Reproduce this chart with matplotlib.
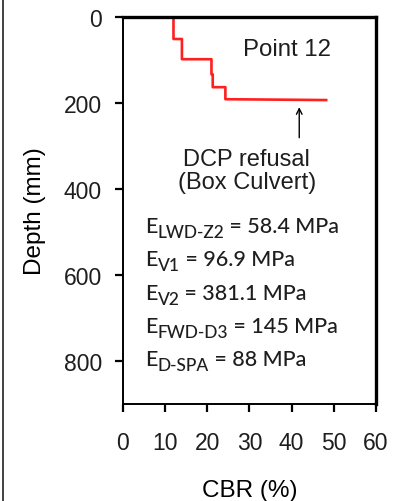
import matplotlib
matplotlib.use('agg')

import matplotlib.pyplot as plt
from matplotlib.lines import Line2D

# CBR profile (step line)
cbr = [12, 12, 14, 14, 21, 21, 21.3, 21.3, 24.3, 24.3, 48.5]
depth = [0, 51, 51, 98, 98, 133, 133, 163, 163, 191, 193]

x_ticks = [0, 10, 20, 30, 40, 50, 60]
y_ticks = [0, 200, 400, 600, 800]

moduli_labels = ['LWD-Z2', 'V1', 'V2', 'FWD-D3', 'D-SPA']
moduli_values = ['58.4', '96.9', '381.1', '145', '88']

plt.rcParams['font.family'] = ['Liberation Sans', 'DejaVu Sans']
plt.rcParams['text.color'] = '#1e1e1e'

fig = plt.figure(figsize=(3.95, 5.02), dpi=100)
ax = fig.add_axes([0.311, 0.193, 0.641, 0.771])

ax.plot(cbr, depth, color='#ff1f1f', lw=1.9, solid_capstyle='butt')

ax.set_xlim(0, 60)
ax.set_ylim(900, 0)
ax.set_xticks(x_ticks)
ax.set_yticks(y_ticks)
ax.tick_params(direction='out', length=6, width=1.6, labelsize=16.5,
               labelcolor='#1e1e1e')
ax.tick_params(axis='x', pad=13)
ax.tick_params(axis='y', pad=9)
ax.set_xlabel('CBR (%)', fontsize=17.5, labelpad=18)
ax.set_ylabel('Depth (mm)', fontsize=17.5, labelpad=13)

for side in ['left', 'bottom']:
    ax.spines[side].set_linewidth(1.4)
for side in ['top', 'right']:
    ax.spines[side].set_linewidth(2.4)

ax.text(39, 74, 'Point 12', fontsize=17.3, ha='center', va='center')

# refusal arrow
ax.annotate('', xy=(41.8, 203), xytext=(41.8, 287),
            arrowprops=dict(arrowstyle='->', color='black', lw=1.0))
ax.text(29.4, 357, 'DCP refusal\n(Box Culvert)', fontsize=17,
        ha='center', va='center', linespacing=1.1)

# moduli text block: E, subscript, then value
efont = ['Lato', 'DejaVu Sans']
y0 = 509
for i, (lab, val) in enumerate(zip(moduli_labels, moduli_values)):
    t_e = ax.text(5.3, y0 + i * 77.5, 'E', fontsize=15.5, family=efont,
                  weight='medium', ha='left', va='bottom')
    t_sub = ax.annotate(lab, xy=(1, 0), xycoords=t_e, xytext=(0, -3),
                        textcoords='offset points', fontsize=12.5,
                        family=efont, weight='medium',
                        ha='left', va='bottom')
    ax.annotate(' = %s MPa' % val, xy=(1, 0), xycoords=(t_sub, t_e),
                fontsize=15.5, family=efont, weight='medium',
                ha='left', va='bottom')

# panel border at the left edge
fig.add_artist(Line2D([0.008, 0.008], [0, 1], color='#333333', lw=1.3))

plt.savefig('out.png', dpi=100)
